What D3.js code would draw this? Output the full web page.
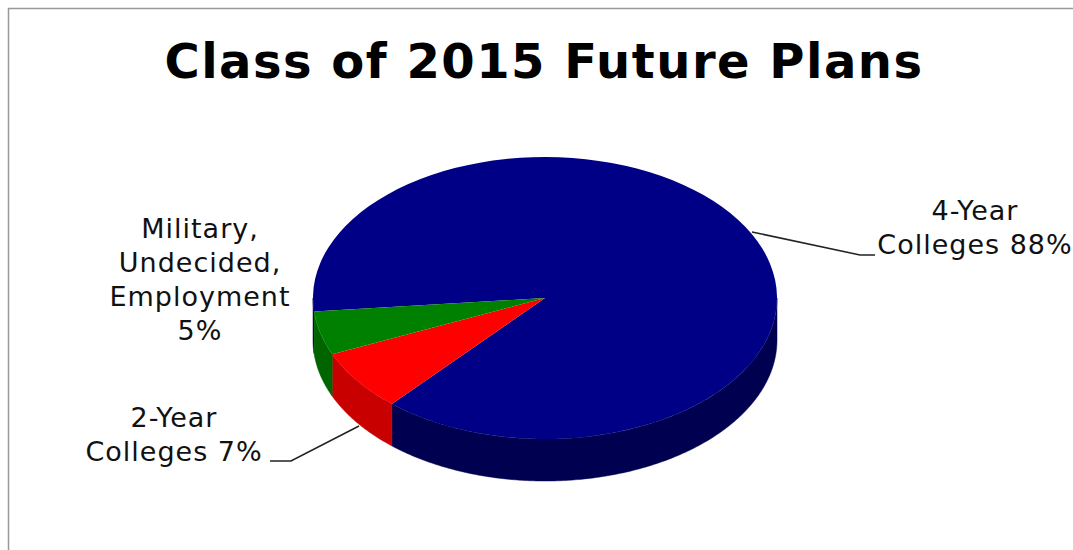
<!DOCTYPE html>
<html>
<head>
<meta charset="utf-8">
<script src="https://cdn.jsdelivr.net/npm/d3@7"></script>
<style>
  html, body { margin: 0; padding: 0; background: #fff; overflow: hidden; }
  text { font-family: "DejaVu Sans", sans-serif; fill: #111; }
</style>
</head>
<body>
<svg id="drawspace" width="1073" height="550"></svg>
<script>
// Slices, clockwise from the blue one
const categories = ["4-Year Colleges", "2-Year Colleges", "Military, Undecided, Employment"];
const percents = [88, 7, 5];
const topColors = ["#000086", "#ff0000", "#008000"];
const sideColors = ["#000050", "#c80000", "#006400"];

const W = 1073, H = 550;
const cx = 545, cy = 298, rx = 232, ry = 141, depth = 42;
const startDeg = 264.5;

let svg = d3.select("#drawspace");

// chart frame, runs off the right and bottom of the picture
svg.append("rect")
  .attr("x", 8.5).attr("y", 8.5)
  .attr("width", W + 20).attr("height", H + 20)
  .attr("fill", "#fff")
  .attr("stroke", "#999").attr("stroke-width", 1.5);

svg.append("text")
  .attr("x", 544).attr("y", 78)
  .attr("text-anchor", "middle")
  .style("font-size", "48px").style("font-weight", "bold")
  .style("letter-spacing", "1.5px")
  .style("fill", "#000")
  .text("Class of 2015 Future Plans");

let start = startDeg * Math.PI / 180;
let pie = d3.pie().sort(null).startAngle(start).endAngle(start + 2 * Math.PI);
let slices = pie(percents);

// angle is clockwise from the top
let px = (a) => cx + rx * Math.sin(a);
let py = (a) => cy - ry * Math.cos(a);
let line = d3.line();

// the side wall of a slice, only the part on the front half of the ellipse
function wall(d) {
  let paths = [];
  [0, 2 * Math.PI].forEach((shift) => {
    let a0 = Math.max(d.startAngle - shift, Math.PI / 2);
    let a1 = Math.min(d.endAngle - shift, 3 * Math.PI / 2);
    if (a1 <= a0) return;
    let angles = d3.range(a0, a1, 0.01).concat([a1]);
    let pts = angles.map((a) => [px(a), py(a)])
      .concat(angles.slice().reverse().map((a) => [px(a), py(a) + depth]));
    paths.push(line(pts) + "Z");
  });
  return paths.join("");
}

svg.selectAll("path.wall").data(slices).enter().append("path")
  .attr("class", "wall")
  .attr("d", wall)
  .attr("fill", (d, i) => sideColors[i])
  .attr("stroke", (d, i) => sideColors[i])
  .attr("stroke-width", 0.5);

let arc = d3.arc().innerRadius(0).outerRadius(rx);
svg.append("g")
  .attr("transform", `translate(${cx},${cy}) scale(1,${ry / rx})`)
  .selectAll("path").data(slices).enter().append("path")
  .attr("d", arc)
  .attr("fill", (d, i) => topColors[i]);

// leader lines
const leaders = [
  [[752, 232], [860, 255], [875, 255]],
  [[359, 426], [291, 461], [270, 461]]
];
svg.selectAll("path.leader").data(leaders).enter().append("path")
  .attr("class", "leader")
  .attr("d", (d) => line(d))
  .attr("fill", "none")
  .attr("stroke", "#222").attr("stroke-width", 1.6);

// labels
const labelLines = [
  { x: 975, y: 220, lines: ["4-Year", "Colleges 88%"] },
  { x: 174, y: 427, lines: ["2-Year", "Colleges 7%"] },
  { x: 200, y: 238, lines: ["Military,", "Undecided,", "Employment", "5%"] }
];
const labelStep = 34;
labelLines.forEach((l) => {
  let t = svg.append("text")
    .attr("text-anchor", "middle")
    .style("font-size", "27px")
    .style("letter-spacing", "1px");
  l.lines.forEach((s, i) => {
    t.append("tspan").attr("x", l.x).attr("y", l.y + i * labelStep).text(s);
  });
});
</script>
</body>
</html>
